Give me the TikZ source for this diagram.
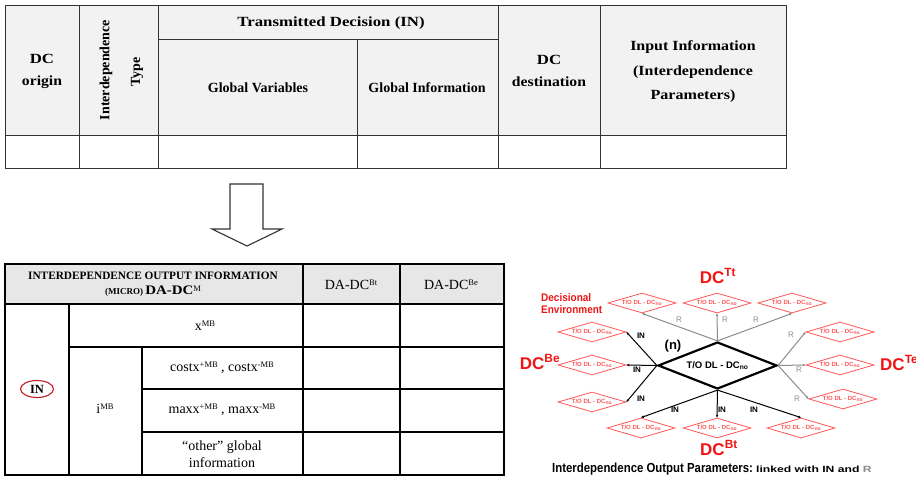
\documentclass[tikz,border=0pt]{standalone}
\usepackage{fontspec}
\usepackage{graphicx}
\setmainfont{Liberation Serif}
\newfontfamily\dsans{Liberation Sans}
\usetikzlibrary{shapes.geometric,arrows.meta}

\definecolor{hdrA}{RGB}{242,242,242}
\definecolor{hdrB}{RGB}{231,231,231}
\definecolor{lred}{RGB}{255,85,85}
\definecolor{dcred}{RGB}{240,20,20}
\definecolor{rgray}{RGB}{140,140,140}
\definecolor{ovred}{RGB}{190,30,40}

% horizontal stretch of a piece of text
\newcommand{\hs}[2]{\scalebox{#1}[1]{#2}}
% vertical stretch of a piece of text
\newcommand{\vs}[2]{\scalebox{1}[#1]{#2}}
% small superscript sitting at cap height
\newcommand{\sups}[1]{\raisebox{0.62ex}{\fontsize{8.5}{9}\selectfont #1}}

\tikzset{
  tline/.style={draw=black!80, line width=0.9pt},
  bline/.style={draw=black, line width=1.1pt},
  th/.style={font=\bfseries\fontsize{14}{22}\selectfont, align=center, inner sep=0pt},
  tb/.style={font=\fontsize{14}{17}\selectfont, align=center, inner sep=0pt},
  smalldia/.style={diamond, draw=lred, line width=0.8pt, aspect=3.4,
    minimum width=68pt, minimum height=20pt, inner sep=0pt, text=lred,
    font=\dsans\bfseries\fontsize{6}{6}\selectfont},
  bigdia/.style={diamond, draw=black, line width=2.2pt, aspect=2.5,
    minimum width=119pt, minimum height=47pt, inner sep=0pt,
    font=\dsans\bfseries\fontsize{9.5}{10}\selectfont},
  inlink/.style={draw=black, line width=1pt, -{Stealth[length=3pt,width=2.6pt]}},
  rlink/.style={draw=rgray, line width=1pt, -{Stealth[length=3pt,width=2.6pt]}},
  inlbl/.style={font=\dsans\bfseries\fontsize{8}{8}\selectfont, inner sep=0pt},
  rlbl/.style={font=\dsans\fontsize{8}{8}\selectfont, text=rgray, inner sep=0pt},
  dclbl/.style={font=\dsans\bfseries\fontsize{17}{18}\selectfont, text=dcred, inner sep=0pt},
}

\begin{document}
\begin{tikzpicture}[x=1pt,y=-1pt]
\useasboundingbox (0,0) rectangle (916,477);

% ---------------- upper table ----------------
\fill[hdrA] (5,5) rectangle (786,135);
\draw[tline] (5,5) rectangle (786,168);
\draw[tline] (79,5) -- (79,168);
\draw[tline] (158,5) -- (158,168);
\draw[tline] (357,39) -- (357,168);
\draw[tline] (498,5) -- (498,168);
\draw[tline] (600,5) -- (600,168);
\draw[tline] (158,39) -- (498,39);
\draw[tline] (5,135) -- (786,135);

\node[th] (h-origin) at (42,71) {\hs{1.2}{DC}\\\hs{1.12}{origin}};
\node[th, rotate=90] (h-inter) at (106,70) {Interdependence};
\node[th, rotate=90] (h-type) at (137,72) {Type};
\node[th] (h-trans) at (331,23) {\hs{1.2}{Transmitted Decision (IN)}};
\node[th] (h-gvar) at (258,88) {Global Variables};
\node[th] (h-ginf) at (427,88) {Global Information};
\node[th] (h-dest) at (549,71) {\hs{1.2}{DC}\\\hs{1.12}{destination}};
\node[th, font=\bfseries\fontsize{14}{24.5}\selectfont] (h-input) at (693,72)
  {\hs{1.14}{Input Information}\\\hs{1.14}{(Interdependence}\\\hs{1.15}{Parameters)}};

% ---------------- down arrow ----------------
\draw[draw=black!80, line width=1.1pt, fill=white, line join=miter]
  (230,184) -- (263,184) -- (263,229) -- (282,229) -- (247,246)
  -- (212,229) -- (230,229) -- cycle;

% ---------------- lower table ----------------
\fill[hdrB] (5,264) rectangle (504,304);
\draw[bline] (5,264) rectangle (504,475);
\draw[bline] (303,264) -- (303,475);
\draw[bline] (400,264) -- (400,475);
\draw[bline] (69,304) -- (69,475);
\draw[bline] (142,347) -- (142,475);
\draw[bline] (5,304) -- (504,304);
\draw[bline] (69,347) -- (504,347);
\draw[bline] (142,389) -- (504,389);
\draw[bline] (142,432) -- (504,432);

\node[th, font=\bfseries\fontsize{11.3}{12}\selectfont] (b-head1) at (153,276)
  {INTERDEPENDENCE OUTPUT INFORMATION};
\node[th, font=\bfseries\fontsize{9}{9}\selectfont] (b-head2) at (153,291)
  {(MICRO) {\fontsize{13}{13}\selectfont\hs{1.15}{DA-DC}}\sups{\mdseries M}};
\node[tb] (b-bt) at (351,285) {DA-DC\sups{Bt}};
\node[tb] (b-be) at (451,285) {DA-DC\sups{Be}};
\node[tb] (b-x) at (205,326) {x\sups{MB}};
\node[tb] (b-cost) at (222,368) {costx\sups{+MB} , costx\sups{-MB}};
\node[tb] (b-max) at (222,410) {maxx\sups{+MB} , maxx\sups{-MB}};
\node[tb] (b-other) at (222,454) {``other'' global\\information};
\node[tb] (b-i) at (105,409) {i\sups{MB}};
\node[draw=ovred, line width=1.1pt, ellipse, minimum width=33pt, minimum height=17pt,
  inner sep=0pt, font=\bfseries\fontsize{12.5}{13}\selectfont] (b-in) at (37,389) {IN};

% ---------------- decision network ----------------
\node[bigdia] (core) at (717.5,365.5) {T/O DL - DC\textsubscript{no}};

\node[smalldia] (t1) at (642,303) {T/O DL - DC\textsubscript{no}};
\node[smalldia] (t2) at (717,303) {T/O DL - DC\textsubscript{no}};
\node[smalldia] (t3) at (792,303) {T/O DL - DC\textsubscript{no}};
\node[smalldia] (l1) at (592,332) {T/O DL - DC\textsubscript{no}};
\node[smalldia] (l2) at (592,365) {T/O DL - DC\textsubscript{no}};
\node[smalldia] (l3) at (592,402) {T/O DL - DC\textsubscript{no}};
\node[smalldia] (r1) at (840,332) {T/O DL - DC\textsubscript{no}};
\node[smalldia] (r2) at (840,365) {T/O DL - DC\textsubscript{no}};
\node[smalldia] (r3) at (843,399) {T/O DL - DC\textsubscript{no}};
\node[smalldia] (b1) at (641,428) {T/O DL - DC\textsubscript{no}};
\node[smalldia] (b2) at (717,428) {T/O DL - DC\textsubscript{no}};
\node[smalldia] (b3) at (801,428) {T/O DL - DC\textsubscript{no}};

\draw[rlink] (core.north) -- (t1.south);
\draw[rlink] (core.north) -- (t2.south);
\draw[rlink] (core.north) -- (t3.south);
\draw[inlink] (core.west) -- (l1.east);
\draw[inlink] (core.west) -- (l2.east);
\draw[inlink] (core.west) -- (l3.east);
\draw[rlink] (core.east) -- (r1.west);
\draw[rlink] (core.east) -- (r2.west);
\draw[rlink] (core.east) -- (r3.west);
\draw[inlink] (core.south) -- (b1.north);
\draw[inlink] (core.south) -- (b2.north);
\draw[inlink] (core.south) -- (b3.north);

\node[rlbl] (lr-t1) at (679,320) {R};
\node[rlbl] (lr-t2) at (725,320) {R};
\node[rlbl] (lr-t3) at (756,320) {R};
\node[rlbl] (lr-r1) at (791,335) {R};
\node[rlbl] (lr-r2) at (799,370) {R};
\node[rlbl] (lr-r3) at (797,399) {R};
\node[inlbl] (li-l1) at (641,336) {IN};
\node[inlbl] (li-l2) at (637,370) {IN};
\node[inlbl] (li-l3) at (641,399) {IN};
\node[inlbl] (li-b1) at (675,410) {IN};
\node[inlbl] (li-b2) at (722,410) {IN};
\node[inlbl] (li-b3) at (754,410) {IN};

\node[font=\dsans\bfseries\fontsize{13}{13}\selectfont, inner sep=0pt] (n-lbl) at (673,346) {(n)};

\node[dclbl] (dc-tt) at (718,276) {DC\textsuperscript{Tt}};
\node[dclbl] (dc-be) at (540,362) {DC\textsuperscript{Be}};
\node[dclbl, anchor=west] (dc-te) at (880,363) {DC\textsuperscript{Te}};
\node[dclbl] (dc-bt) at (719,448) {DC\textsuperscript{Bt}};

\node[font=\dsans\bfseries\fontsize{10}{12}\selectfont, text=dcred, align=left,
  anchor=west, inner sep=0pt] (env) at (541,304) {\vs{1.1}{Decisional}\\\vs{1.1}{Environment}};

\node[anchor=base west, inner sep=0pt] (caption) at (552,472)
  {{\dsans\bfseries\fontsize{11.4}{12}\selectfont\vs{1.15}{Interdependence Output Parameters:} }%
   {\dsans\bfseries\fontsize{9}{10}\selectfont\hs{1.35}{linked with IN and \textcolor{rgray}{R}}}};
\end{tikzpicture}
\end{document}
